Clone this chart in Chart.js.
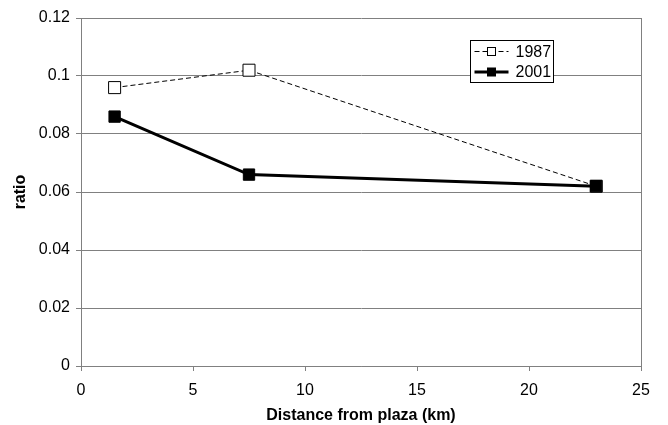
<!DOCTYPE html>
<html>
<head>
<meta charset="utf-8">
<script src="https://cdn.jsdelivr.net/npm/chart.js@4"></script>
<style>
  html, body { margin: 0; padding: 0; background: #fff; }
  #wrap { width: 668px; height: 425px; }
</style>
</head>
<body>
<div id="wrap"><canvas id="mycanvas" width="668" height="425"></canvas></div>
<script>
// data
var distances = [1.5, 7.5, 23];
var ratio1987 = [0.096, 0.102, 0.062];
var ratio2001 = [0.086, 0.066, 0.062];
var seriesLabels = ['1987', '2001'];
var xTicks = [0, 5, 10, 15, 20, 25];
var yTicks = [0, 0.02, 0.04, 0.06, 0.08, 0.1, 0.12];
var yTickLabels = ['0', '0.02', '0.04', '0.06', '0.08', '0.1', '0.12'];

var FONT = 'Liberation Sans, Arial, sans-serif';
var GRID = '#808080';

function pts(ys) {
  var out = [];
  for (var i in distances) out.push({x: distances[i], y: ys[i]});
  return out;
}

// right edge of the plot box + Excel style legend box
var framePlugin = {
  id: 'frame',
  afterDatasetsDraw: function(chart) {
    var a = chart.chartArea, ctx = chart.ctx;
    ctx.save();
    ctx.strokeStyle = GRID;
    ctx.lineWidth = 1;
    ctx.beginPath();
    ctx.moveTo(Math.round(a.right) + 0.5, a.top);
    ctx.lineTo(Math.round(a.right) + 0.5, a.bottom);
    ctx.stroke();

    // legend
    var bx = 470.5, by = 40.5, bw = 83, bh = 42;
    ctx.fillStyle = '#fff';
    ctx.fillRect(bx, by, bw, bh);
    ctx.strokeStyle = '#000';
    ctx.strokeRect(bx, by, bw, bh);
    ctx.font = '16px ' + FONT;
    ctx.textBaseline = 'middle';
    chart.data.datasets.forEach(function(ds, i) {
      var cy = by + 11 + i * 20.5;
      ctx.strokeStyle = ds.borderColor;
      ctx.lineWidth = ds.borderWidth;
      ctx.setLineDash(ds.borderDash || []);
      ctx.beginPath();
      ctx.moveTo(bx + 4, cy);
      ctx.lineTo(bx + 38, cy);
      ctx.stroke();
      ctx.setLineDash([]);
      var s = 8;
      ctx.fillStyle = ds.pointBackgroundColor;
      ctx.fillRect(bx + 21 - s / 2, cy - s / 2, s, s);
      ctx.lineWidth = 1;
      ctx.strokeStyle = '#000';
      ctx.strokeRect(bx + 21 - s / 2, cy - s / 2, s, s);
      ctx.fillStyle = '#000';
      ctx.fillText(ds.label, bx + 45, cy + 1);
    });
    ctx.restore();
  }
};

var chartdata = {
  datasets: [
    {
      label: seriesLabels[0],
      data: pts(ratio1987),
      order: 1,
      borderColor: '#000',
      borderWidth: 1,
      borderDash: [5, 3],
      pointStyle: 'rect',
      pointRadius: 8.5,
      pointBorderWidth: 1,
      pointBorderColor: '#000',
      pointBackgroundColor: '#fff'
    },
    {
      label: seriesLabels[1],
      data: pts(ratio2001),
      order: 0,
      borderColor: '#000',
      borderWidth: 3,
      pointStyle: 'rect',
      pointRadius: 8,
      pointBorderWidth: 1,
      pointBorderColor: '#000',
      pointBackgroundColor: '#000'
    }
  ]
};

var ctx = document.getElementById('mycanvas');
var lineGraph = new Chart(ctx, {
  type: 'scatter',
  data: chartdata,
  plugins: [framePlugin],
  options: {
    responsive: false,
    animation: false,
    showLine: true,
    layout: { padding: { left: 0, top: 18, right: 27, bottom: 0 } },
    plugins: {
      legend: { display: false },
      tooltip: { enabled: false }
    },
    scales: {
      x: {
        type: 'linear',
        min: 0, max: 25,
        afterBuildTicks: function(s) { s.ticks = xTicks.map(function(v) { return {value: v}; }); },
        afterFit: function(s) { s.height = 59; },
        grid: { drawOnChartArea: false, drawTicks: true, tickLength: 5, color: GRID },
        border: { color: GRID, width: 1 },
        ticks: { color: '#000', font: { family: FONT, size: 16 }, padding: 10, maxRotation: 0 },
        title: { display: true, text: 'Distance from plaza (km)', color: '#000',
                 font: { family: FONT, size: 16, weight: 'bold' }, padding: { top: 4, bottom: 0 } }
      },
      y: {
        type: 'linear',
        min: 0, max: 0.12,
        afterBuildTicks: function(s) { s.ticks = yTicks.map(function(v) { return {value: v}; }); },
        afterFit: function(s) { s.width = 81; },
        grid: { color: GRID, tickLength: 5, lineWidth: 1 },
        border: { color: GRID, width: 1 },
        ticks: {
          color: '#000', font: { family: FONT, size: 16 }, padding: 6,
          callback: function(v) { return yTickLabels[yTicks.indexOf(v)]; }
        },
        title: { display: true, text: 'ratio', color: '#000',
                 font: { family: FONT, size: 16, weight: 'bold' }, padding: { top: 11, bottom: 0 } }
      }
    }
  }
});
</script>
</body>
</html>
